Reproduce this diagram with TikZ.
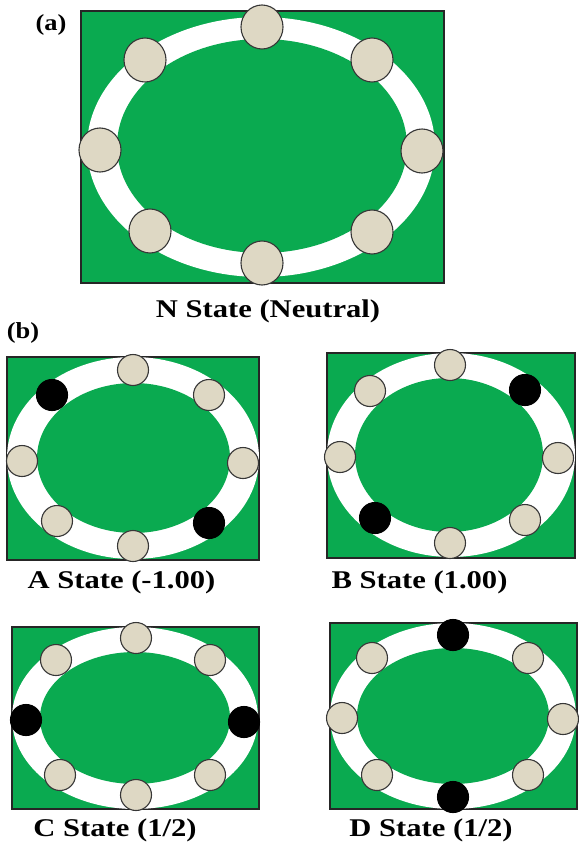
\documentclass[tikz,border=0pt]{standalone}
\usepackage{fontspec}
\setmainfont{Liberation Serif}
\usetikzlibrary{shapes.geometric}
\definecolor{felt}{RGB}{10,170,80}
\definecolor{beadfill}{RGB}{222,216,196}
\definecolor{rim}{RGB}{55,55,55}
\tikzset{
  panelbox/.style={fill=felt, draw=black!85, line width=1.4pt},
  ringfill/.style={fill=white},
  hole/.style={fill=felt},
  bead/.style={ellipse, draw=rim, line width=1.1pt, fill=beadfill, inner sep=0pt, minimum width=31pt, minimum height=31pt},
  bigbead/.style={bead, minimum width=42pt, minimum height=44pt},
  dark/.style={fill=black, draw=black},
  caption/.style={font=\fontsize{25.5}{29}\selectfont\bfseries, inner sep=0pt, xscale=1.2},
  tag/.style={font=\fontsize{23}{27}\selectfont\bfseries, inner sep=0pt, xscale=1.15}
}
\begin{document}
\begin{tikzpicture}[x=1pt,y=-1pt]
\useasboundingbox (0,0) rectangle (578,848);

% ---------- (a) ----------
\node[tag] (taga) at (51,25) {(a)};
\draw[panelbox] (81,11) rectangle (444,283);
\fill[ringfill] (261,147) ellipse [x radius=174, y radius=130];
\fill[hole] (262,146) ellipse [x radius=145, y radius=107];
\node[bigbead] (n1) at (262,27) {};
\node[bigbead] (n2) at (372,60) {};
\node[bigbead] (n3) at (422,151) {};
\node[bigbead] (n4) at (372,232) {};
\node[bigbead] (n5) at (262,263) {};
\node[bigbead] (n6) at (150,231) {};
\node[bigbead] (n7) at (100,150) {};
\node[bigbead] (n8) at (145,60) {};
\node[caption] (capn) at (268,311) {N State (Neutral)};

% ---------- (b) ----------
\node[tag] (tagb) at (23,333) {(b)};

% A state
\draw[panelbox] (7,357) rectangle (259,560);
\fill[ringfill] (133,458) ellipse [x radius=126, y radius=101];
\fill[hole] (133.5,458) ellipse [x radius=96.5, y radius=75];
\node[bead] (a1) at (133,370) {};
\node[bead] (a2) at (209,395) {};
\node[bead] (a3) at (243,463) {};
\node[bead,dark] (a4) at (209,523) {};
\node[bead] (a5) at (133,546) {};
\node[bead] (a6) at (57,521) {};
\node[bead] (a7) at (22,461) {};
\node[bead,dark] (a8) at (52,395) {};
\node[caption] (capa) at (121.5,582) {A State (-1.00)};

% B state
\draw[panelbox] (327,353) rectangle (575,558);
\fill[ringfill] (451,455) ellipse [x radius=124, y radius=102];
\fill[hole] (449,455) ellipse [x radius=94, y radius=77];
\node[bead] (b1) at (450,365) {};
\node[bead,dark] (b2) at (525,390) {};
\node[bead] (b3) at (558,458) {};
\node[bead] (b4) at (525,520) {};
\node[bead] (b5) at (450,543) {};
\node[bead,dark] (b6) at (375,518) {};
\node[bead] (b7) at (340,457) {};
\node[bead] (b8) at (370,391) {};
\node[caption] (capb) at (419.5,582) {B State (1.00)};

% C state
\draw[panelbox] (12,627) rectangle (259,809);
\fill[ringfill] (135,718) ellipse [x radius=123, y radius=91];
\fill[hole] (135,718) ellipse [x radius=95, y radius=66];
\node[bead] (c1) at (136,638) {};
\node[bead] (c2) at (210,660) {};
\node[bead,dark] (c3) at (244,722) {};
\node[bead] (c4) at (210,775) {};
\node[bead] (c5) at (136,795) {};
\node[bead] (c6) at (60,775) {};
\node[bead,dark] (c7) at (26,720) {};
\node[bead] (c8) at (56,660) {};
\node[caption] (capc) at (115,830) {C State (1/2)};

% D state
\draw[panelbox] (330,623) rectangle (577,809);
\fill[ringfill] (453,716) ellipse [x radius=123, y radius=93];
\fill[hole] (453,716) ellipse [x radius=96, y radius=68];
\node[bead,dark] (d1) at (453,635) {};
\node[bead] (d2) at (528,658) {};
\node[bead] (d3) at (563,719) {};
\node[bead] (d4) at (528,775) {};
\node[bead,dark] (d5) at (453,797) {};
\node[bead] (d6) at (377,775) {};
\node[bead] (d7) at (342,718) {};
\node[bead] (d8) at (372,658) {};
\node[caption] (capd) at (431,830) {D State (1/2)};
\end{tikzpicture}
\end{document}
